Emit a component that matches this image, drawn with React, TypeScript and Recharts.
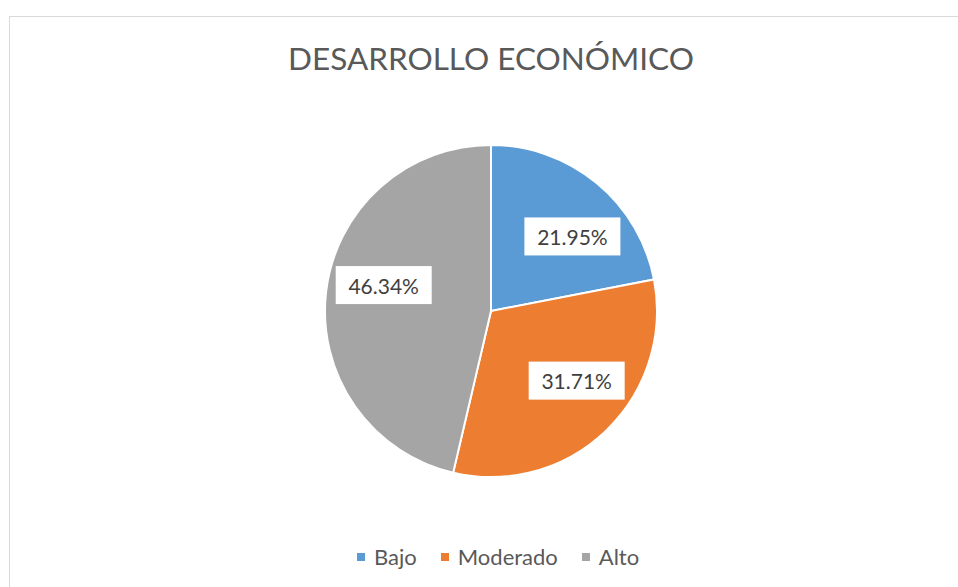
import React from "react";
import { PieChart, Pie, Cell, Legend } from "recharts";

const categories = ["Bajo", "Moderado", "Alto"];
const values = [9, 13, 19];
const labels = ["21.95%", "31.71%", "46.34%"];
const colors = ["#5B9BD5", "#ED7D31", "#A5A5A5"];
const labelAngleShift = [-8, 7, -7];

const data = categories.map((name, i) => ({ name, value: values[i], label: labels[i] }));

const RAD = Math.PI / 180;

const renderLabel = (props: any) => {
  const { cx, cy, midAngle, outerRadius, index } = props;
  const a = (midAngle + labelAngleShift[index]) * RAD;
  const r = outerRadius * 0.665;
  const x = cx + r * Math.cos(a);
  const y = cy - r * Math.sin(a);
  const w = 96;
  const h = 38;
  return (
    <g>
      <rect x={x - w / 2} y={y - h / 2} width={w} height={h} fill="#FFFFFF" />
      <text
        x={x}
        y={y}
        textAnchor="middle"
        dominantBaseline="central"
        fontFamily="Lato, 'Open Sans', sans-serif"
        fontSize={21}
        fill="#404040"
      >
        {data[index].label}
      </text>
    </g>
  );
};

const renderLegend = () => (
  <div style={{ display: "flex", alignItems: "center", fontFamily: "Lato, 'Open Sans', sans-serif", fontSize: 22, color: "#595959" }}>
    {data.map((d, i) => (
      <div key={d.name} style={{ display: "flex", alignItems: "center", marginRight: 24 }}>
        <span style={{ display: "inline-block", width: 8, height: 8, background: colors[i], marginRight: 9 }} />
        <span>{d.name}</span>
      </div>
    ))}
  </div>
);

export default function App() {
  return (
    <div style={{ position: "absolute", left: 0, top: 0, width: 958, height: 587, background: "#FFFFFF", overflow: "hidden" }}>
      <div style={{ position: "absolute", left: 9, top: 16, width: 970, height: 600, border: "1px solid #D9D9D9", boxSizing: "border-box" }} />
      <div
        style={{
          position: "absolute",
          left: 0,
          width: 982,
          top: 38,
          textAlign: "center",
          fontFamily: "Lato, 'Open Sans', sans-serif",
          fontSize: 31.5,
          color: "#595959",
          lineHeight: "40px",
        }}
      >
        DESARROLLO ECONÓMICO
      </div>
      <div style={{ position: "absolute", left: 0, top: 0 }}>
        <PieChart width={958} height={587} margin={{ top: 0, right: 0, bottom: 0, left: 0 }}>
          <Pie
            data={data}
            dataKey="value"
            nameKey="name"
            cx={491}
            cy={311}
            outerRadius={166}
            startAngle={90}
            endAngle={-270}
            stroke="#FFFFFF"
            strokeWidth={2}
            label={renderLabel}
            labelLine={false}
            isAnimationActive={false}
          >
            {data.map((d, i) => (
              <Cell key={d.name} fill={colors[i]} />
            ))}
          </Pie>
          <Legend content={renderLegend} wrapperStyle={{ left: 357, top: 543, width: 400 }} />
        </PieChart>
      </div>
    </div>
  );
}
